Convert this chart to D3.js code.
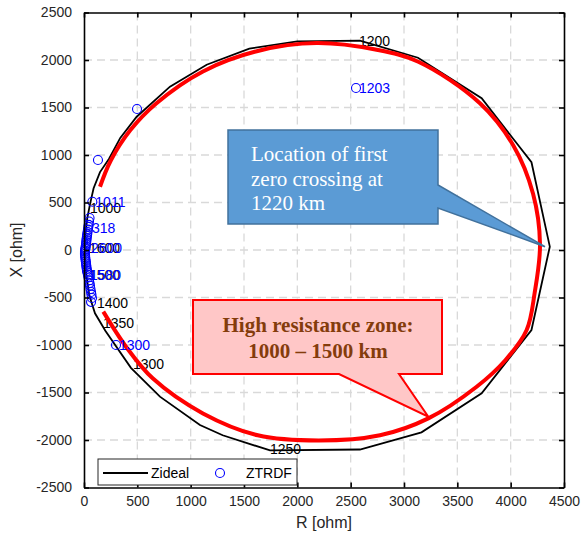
<!DOCTYPE html>
<html>
<head>
<meta charset="utf-8">
<script src="https://cdnjs.cloudflare.com/ajax/libs/d3/7.8.5/d3.min.js"></script>
<style>
  body { margin: 0; background: #fff; }
  #chart-area { width: 587px; height: 539px; }
  .axis text { font-family: "Liberation Sans", Arial, sans-serif; font-size: 14px; fill: #262626; }
  .axis path, .axis line { stroke: #000; stroke-width: 1.6; }
  .grid line { stroke: #d9d9d9; stroke-width: 1.3; stroke-dasharray: 8,5; }
  .lbl { font-family: "Liberation Sans", Arial, sans-serif; font-size: 14px; }
</style>
</head>
<body>
<div id="chart-area"></div>
<script>

// Zideal trajectory (R, X in ohm)
var zR = [8, 12, 30, 56, 90, 150, 235, 340, 494, 806, 1150, 1550, 2000, 2587, 3131, 3728, 4195, 4367, 4195, 3728, 3164, 2587, 1744, 1300, 1087, 712, 440, 200, 103, 50, 20, 8];
var zX = [-30, 150, 330, 480, 650, 820, 960, 1180, 1403, 1719, 1950, 2120, 2195, 2203, 2024, 1597, 924, 35, -842, -1508, -1919, -2100, -2110, -1950, -1842, -1544, -1240, -850, -666, -480, -250, -30];

// distance labels on Zideal (km)
var zLabR = [56, 2578, 1744, 459, 178, 122, 47, 47];
var zLabX = [442, 2200, -2095, -1200, -768, -558, -263, 21];
var zLabText = ["1000", "1200", "1250", "1300", "1350", "1400", "1500", "1600"];

// ZTRDF points
var tR = [2550, 497, 131, 78, 52, 47, 44, 40, 37, 33, 30, 28, 25, 23, 21, 19, 17, 14, 12, 10, 9, 9, 10, 12, 14, 17, 19, 21, 23, 26, 28, 33, 37, 42, 47, 52, 56, 61, 66, 70, 75, 66, 300];
var tX = [1705, 1484, 947, 508, 337, 300, 265, 242, 215, 189, 165, 147, 125, 105, 85, 65, 45, 25, 10, -5, -20, -40, -60, -80, -100, -120, -140, -160, -180, -200, -220, -240, -263, -290, -320, -347, -375, -410, -442, -470, -505, -547, -1000];

// ZTRDF labels (km)
var tLabR = [2550, 78, 47, 37, 28, 300];
var tLabX = [1705, 508, 230, 21, -263, -1000];
var tLabText = ["1203", "1011", "318", "2600", "1580", "1300"];

// high resistance zone arc
var redR = [150, 250, 435, 674, 1115, 1629, 2180, 2731, 3134, 3712, 4025, 4210, 4275, 4225, 4150, 3950, 3681, 3228, 2775, 2200, 1629, 1115, 644, 394, 181];
var redX = [666, 940, 1262, 1540, 1880, 2095, 2178, 2110, 1982, 1544, 1100, 591, 60, -450, -842, -1160, -1439, -1772, -1950, -2005, -1950, -1720, -1351, -1018, -649];

var xTicks = [0, 500, 1000, 1500, 2000, 2500, 3000, 3500, 4000, 4500];
var yTicks = [-2500, -2000, -1500, -1000, -500, 0, 500, 1000, 1500, 2000, 2500];

/*
 * ImpedanceChart - Object constructor function
 */
ImpedanceChart = function(_parentElement){
	this.parentElement = _parentElement;
	this.initVis();
}

ImpedanceChart.prototype.initVis = function(){
	var vis = this;

	vis.margin = { top: 12.5, right: 23, bottom: 51.5, left: 84 };
	vis.width = 587 - vis.margin.left - vis.margin.right;
	vis.height = 539 - vis.margin.top - vis.margin.bottom;

	vis.root = d3.select("#" + vis.parentElement).append("svg")
		.attr("width", 587)
		.attr("height", 539);
	vis.svg = vis.root.append("g")
		.attr("transform", "translate(" + vis.margin.left + "," + vis.margin.top + ")");

	vis.x = d3.scaleLinear().domain([0, 4500]).range([0, vis.width]);
	vis.y = d3.scaleLinear().domain([-2500, 2500]).range([vis.height, 0]);

	// grid
	var grid = vis.svg.append("g").attr("class", "grid");
	grid.selectAll(".gx").data(xTicks.slice(1, -1)).enter().append("line")
		.attr("x1", d => vis.x(d)).attr("x2", d => vis.x(d))
		.attr("y1", 0).attr("y2", vis.height);
	grid.selectAll(".gy").data(yTicks.slice(1, -1)).enter().append("line")
		.attr("y1", d => vis.y(d)).attr("y2", d => vis.y(d))
		.attr("x1", 0).attr("x2", vis.width);

	vis.updateVis();
}

ImpedanceChart.prototype.updateVis = function(){
	var vis = this;
	var fmt = d => String(d);

	// Zideal
	var zData = zR.map((r, i) => [r, zX[i]]);
	vis.svg.append("path")
		.datum(zData)
		.attr("fill", "none")
		.attr("stroke", "#000")
		.attr("stroke-width", 1.8)
		.attr("d", d3.line().x(d => vis.x(d[0])).y(d => vis.y(d[1])));

	// labels along Zideal
	vis.svg.selectAll(".zlab").data(zLabText).enter().append("text")
		.attr("class", "lbl")
		.attr("x", (d, i) => vis.x(zLabR[i]))
		.attr("y", (d, i) => vis.y(zLabX[i]))
		.attr("dy", "0.35em")
		.attr("fill", "#000")
		.text(d => d);

	// red arc
	var redData = redR.map((r, i) => [r, redX[i]]);
	vis.svg.append("path")
		.datum(redData)
		.attr("fill", "none")
		.attr("stroke", "#ff0000")
		.attr("stroke-width", 4)
		.attr("d", d3.line().curve(d3.curveCatmullRom).x(d => vis.x(d[0])).y(d => vis.y(d[1])));

	// ZTRDF circles
	vis.svg.selectAll(".pt").data(tR).enter().append("circle")
		.attr("cx", (d, i) => vis.x(d))
		.attr("cy", (d, i) => vis.y(tX[i]))
		.attr("r", 4.5)
		.attr("fill", "none")
		.attr("stroke", "#0000ff")
		.attr("stroke-width", 1.1);

	vis.svg.selectAll(".tlab").data(tLabText).enter().append("text")
		.attr("class", "lbl")
		.attr("x", (d, i) => vis.x(tLabR[i]) + 3)
		.attr("y", (d, i) => vis.y(tLabX[i]))
		.attr("dy", "0.35em")
		.attr("fill", "#0000ff")
		.text(d => d);

	// axes (ticks inside, box on)
	vis.svg.append("g").attr("class", "x-axis axis")
		.attr("transform", "translate(0," + vis.height + ")")
		.call(d3.axisBottom(vis.x).tickValues(xTicks).tickSize(-5).tickSizeOuter(0).tickPadding(9).tickFormat(fmt));
	vis.svg.append("g").attr("class", "axis")
		.call(d3.axisTop(vis.x).tickValues(xTicks).tickSize(-5).tickSizeOuter(0).tickFormat(""));
	vis.svg.append("g").attr("class", "y-axis axis")
		.call(d3.axisLeft(vis.y).tickValues(yTicks).tickSize(-5).tickSizeOuter(0).tickPadding(12).tickFormat(fmt));
	vis.svg.append("g").attr("class", "axis")
		.attr("transform", "translate(" + vis.width + ",0)")
		.call(d3.axisRight(vis.y).tickValues(yTicks).tickSize(-5).tickSizeOuter(0).tickFormat(""));

	vis.svg.append("text")
		.attr("x", vis.width / 2).attr("y", vis.height + 40)
		.attr("text-anchor", "middle")
		.attr("font-family", "Liberation Sans, Arial, sans-serif")
		.attr("font-size", 16).attr("fill", "#262626")
		.text("R [ohm]");
	vis.svg.append("text")
		.attr("transform", "translate(-62," + vis.height / 2 + ") rotate(-90)")
		.attr("text-anchor", "middle")
		.attr("font-family", "Liberation Sans, Arial, sans-serif")
		.attr("font-size", 16).attr("fill", "#262626")
		.text("X [ohm]");

	// legend
	var lg = vis.root.append("g").attr("transform", "translate(98,459)");
	lg.append("rect").attr("width", 199).attr("height", 26)
		.attr("fill", "#fff").attr("stroke", "#262626").attr("stroke-width", 1);
	lg.append("line").attr("x1", 5).attr("x2", 50).attr("y1", 14).attr("y2", 14)
		.attr("stroke", "#000").attr("stroke-width", 2);
	lg.append("text").attr("class", "lbl").attr("x", 53).attr("y", 14).attr("dy", "0.35em")
		.attr("fill", "#000").text("Zideal");
	lg.append("circle").attr("cx", 122).attr("cy", 14).attr("r", 4.5)
		.attr("fill", "none").attr("stroke", "#0000ff").attr("stroke-width", 1.1);
	lg.append("text").attr("class", "lbl").attr("x", 148).attr("y", 14).attr("dy", "0.35em")
		.attr("fill", "#000").text("ZTRDF");

	// callout: first zero crossing
	var bx = vis.margin.left + vis.x(4322), by = vis.margin.top + vis.y(35);
	vis.root.append("path")
		.attr("d", "M228,130 H438 V185 L" + bx + "," + by + " L438,208 V224 H228 Z")
		.attr("fill", "#5b9bd5").attr("stroke", "#41719c").attr("stroke-width", 1.5);
	var blueLines = ["Location of first", "zero crossing at", "1220 km"];
	vis.root.selectAll(".bl").data(blueLines).enter().append("text")
		.attr("x", 251).attr("y", (d, i) => 161 + i * 24.5)
		.attr("font-family", "Liberation Serif, Times New Roman, serif")
		.attr("font-size", 21).attr("fill", "#fff")
		.text(d => d);

	// callout: high resistance zone
	var rx = vis.margin.left + vis.x(3228), ry = vis.margin.top + vis.y(-1755);
	vis.root.append("path")
		.attr("d", "M193,300 H442 V374 H399 L" + rx + "," + ry + " L339,374 H193 Z")
		.attr("fill", "#ffc7c7").attr("stroke", "#ff0000").attr("stroke-width", 2);
	var redLines = ["High resistance zone:", "1000 \u2013 1500 km"];
	vis.root.selectAll(".rl").data(redLines).enter().append("text")
		.attr("x", 318).attr("y", (d, i) => 332 + i * 26)
		.attr("text-anchor", "middle")
		.attr("font-family", "Liberation Serif, Times New Roman, serif")
		.attr("font-size", 21).attr("font-weight", "bold").attr("fill", "#843c0c")
		.text(d => d);
}

var chart = new ImpedanceChart("chart-area");
</script>
</body>
</html>
